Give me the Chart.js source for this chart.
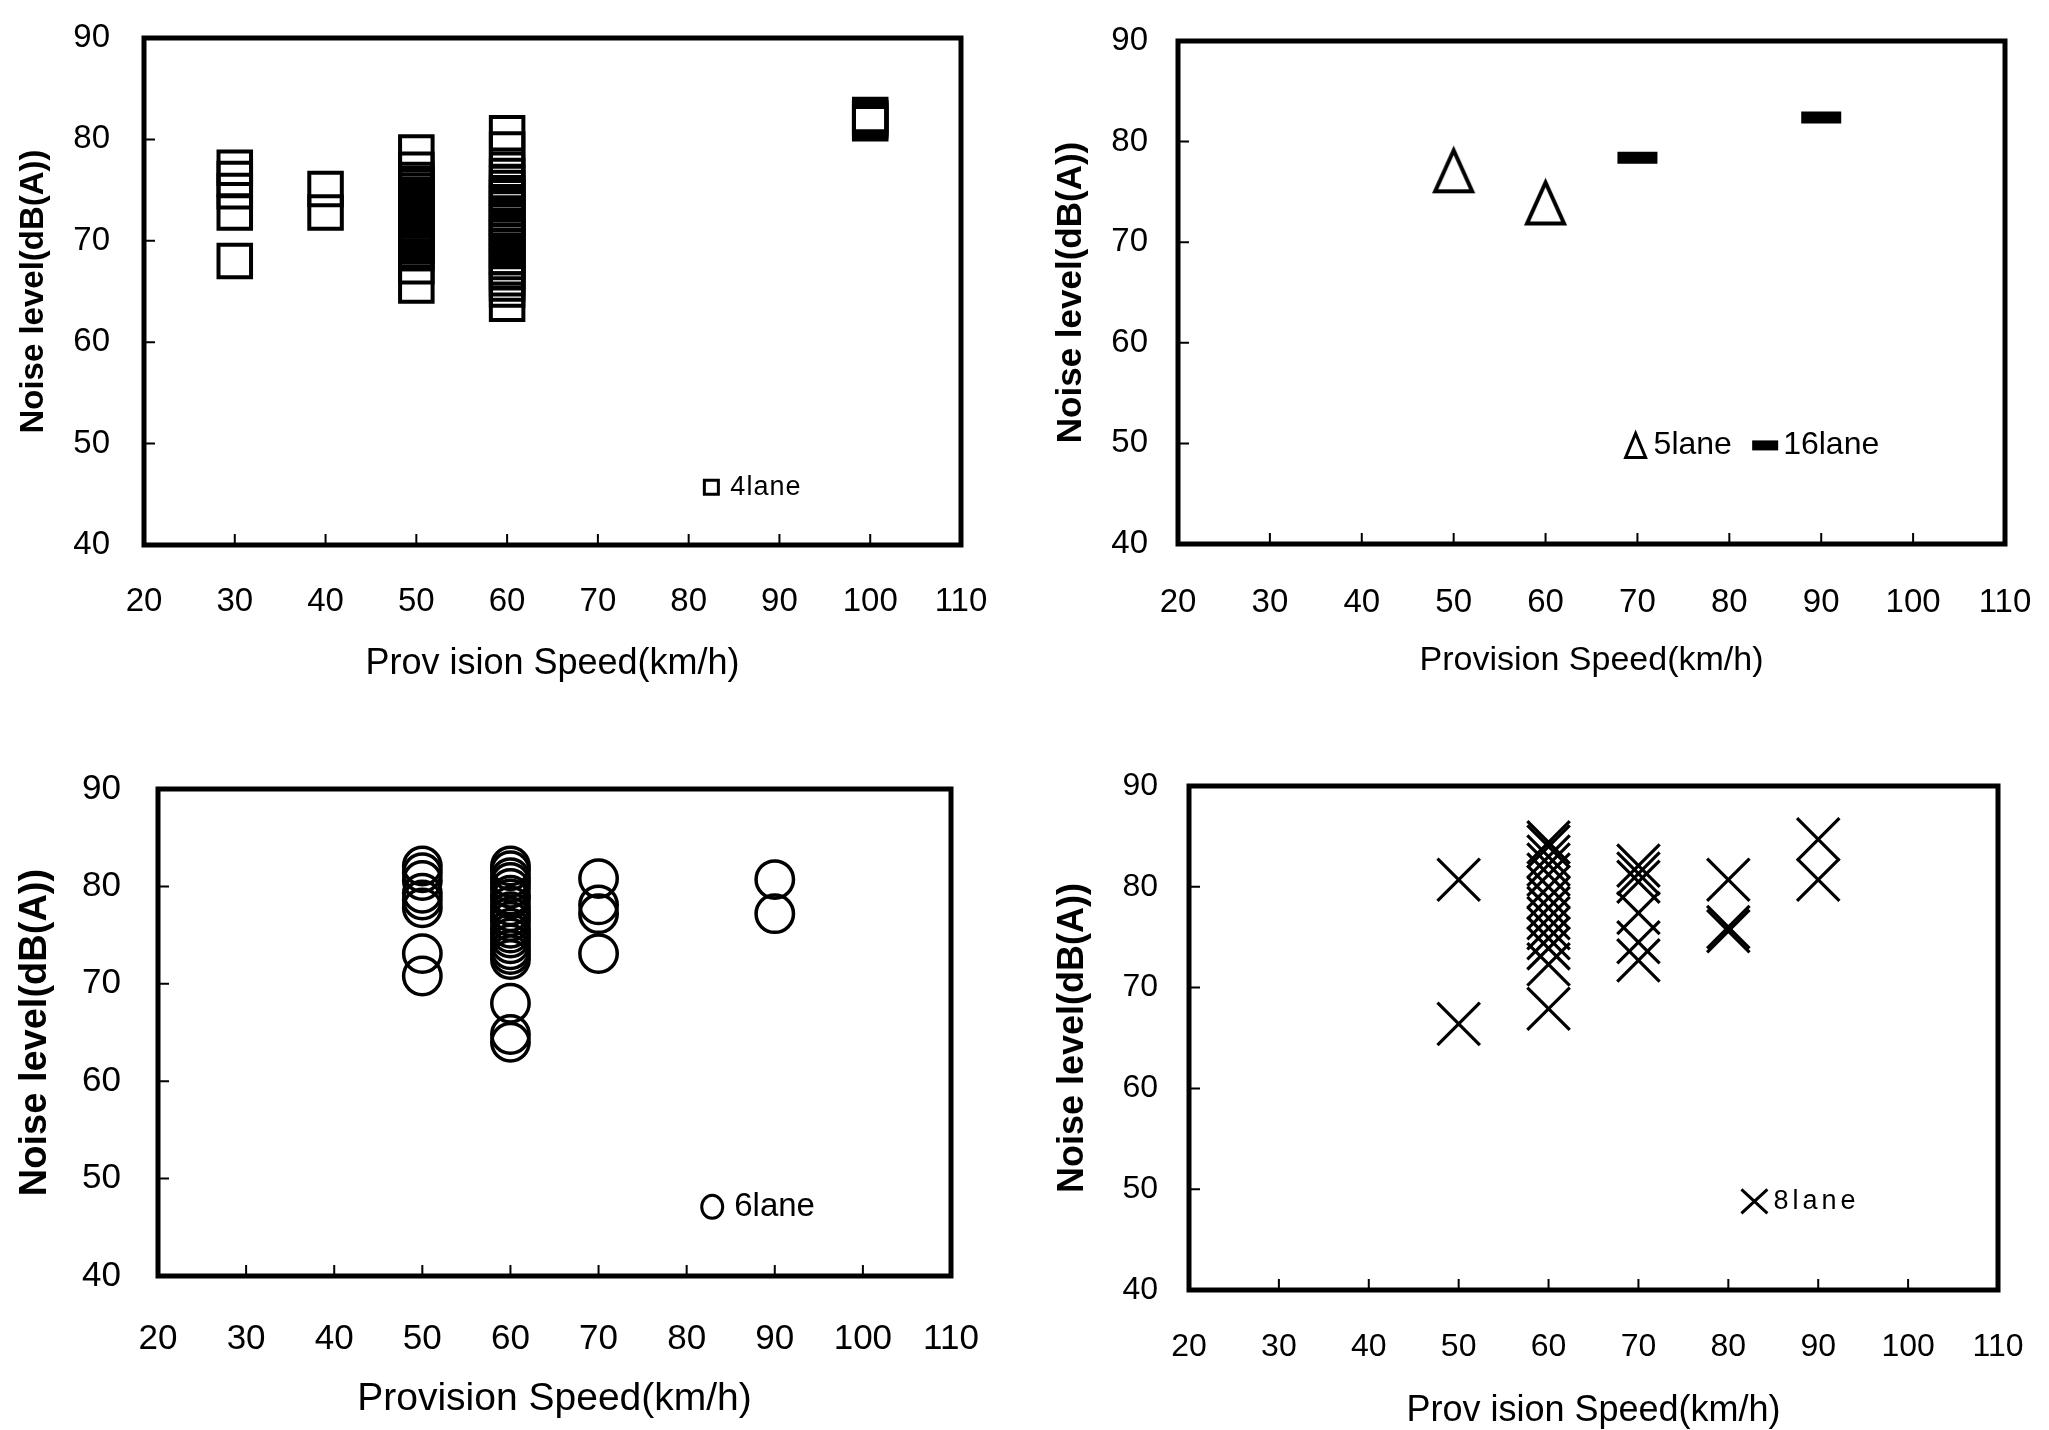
<!DOCTYPE html>
<html>
<head>
<meta charset="utf-8">
<script src="https://cdn.jsdelivr.net/npm/chart.js@4.4.1/dist/chart.umd.min.js"></script>
<style>
html,body{margin:0;padding:0;background:#fff;overflow:hidden;width:2049px;height:1430px;position:relative;}
canvas{position:absolute;}
</style>
</head>
<body>
<canvas id="c1"></canvas>
<canvas id="c2"></canvas>
<canvas id="c3"></canvas>
<canvas id="c4"></canvas>
<script>
// ---------- data ----------
const xTickValues = [20, 30, 40, 50, 60, 70, 80, 90, 100, 110];
const yTickValues = [40, 50, 60, 70, 80, 90];

const lane4Speed = [30, 40, 50, 60, 100];
const lane4Noise = [
  [77.2, 76.1, 74.9, 72.8, 68.0],
  [75.1, 72.8],
  [78.7, 77.0, 76.0, 75.6, 75.3, 74.9, 74.5, 74.2, 73.8, 73.5, 73.1, 72.7, 72.4, 72.0, 71.6, 71.3, 70.9, 70.5, 70.2, 69.8, 69.5, 69.1, 68.8, 67.5, 65.6],
  [80.6, 79.0, 77.0, 76.4, 75.7, 75.2, 74.7, 74.3, 73.6, 73.2, 72.7, 72.2, 71.9, 71.3, 70.8, 70.5, 69.9, 69.4, 69.0, 68.4, 67.9, 67.4, 66.9, 66.3, 65.8, 65.2, 63.8],
  [82.4, 82.1, 81.9, 81.6]
];

const lane5Speed = [50, 60];
const lane5Noise = [77.1, 73.9];
const lane16Speed = [70, 90];
const lane16Noise = [78.4, 82.4];

const lane6Speed = [50, 60, 70, 90];
const lane6Noise = [
  [82.1, 81.4, 80.6, 79.3, 78.6, 77.8, 73.1, 70.8],
  [82.1, 81.6, 80.9, 80.4, 79.8, 79.1, 78.7, 78.0, 77.4, 76.9, 76.4, 75.7, 75.2, 74.7, 74.1, 73.5, 73.0, 72.5, 68.0, 64.8, 64.0],
  [80.8, 78.1, 77.2, 73.1],
  [80.7, 77.2]
];

const lane8Speed = [50, 60, 70, 80, 90];
const lane8Noise = [
  [80.7, 66.4],
  [84.4, 84.0, 83.0, 82.2, 81.2, 80.0, 78.9, 77.9, 76.9, 75.9, 74.9, 73.9, 72.3, 67.9],
  [82.1, 81.3, 80.5, 77.4, 74.5, 72.7],
  [80.7, 76.0, 75.6],
  [84.7, 80.7]
];

// ---------- helpers ----------
function pts(speeds, noise) {
  return speeds.flatMap((s, i) => (Array.isArray(noise[i]) ? noise[i] : [noise[i]]).map(n => ({x: s, y: n})));
}

const FAMILY = "'Liberation Sans', Arial, Helvetica, sans-serif";
Chart.defaults.color = '#000';
Chart.defaults.font.family = FAMILY;

function triangleImage(w, h, lw) {
  const pad = 8;
  const c = document.createElement('canvas');
  c.width = w + 2 * pad; c.height = h + 2 * pad;
  const g = c.getContext('2d');
  g.strokeStyle = '#000'; g.lineWidth = lw; g.lineJoin = 'miter';
  g.beginPath();
  g.moveTo(pad + w / 2, pad);
  g.lineTo(pad + w, pad + h);
  g.lineTo(pad, pad + h);
  g.closePath();
  g.stroke();
  return c;
}

function drawMarker(ctx, m, x, y) {
  ctx.save();
  ctx.strokeStyle = '#000'; ctx.fillStyle = '#000';
  ctx.lineWidth = m.lw || 3;
  ctx.beginPath();
  if (m.type === 'rect') { ctx.rect(x - m.w / 2, y - m.h / 2, m.w, m.h); ctx.stroke(); }
  else if (m.type === 'triangle') { ctx.moveTo(x, y - m.h / 2); ctx.lineTo(x + m.w / 2, y + m.h / 2); ctx.lineTo(x - m.w / 2, y + m.h / 2); ctx.closePath(); ctx.stroke(); }
  else if (m.type === 'bar') { ctx.fillRect(x - m.w / 2, y - m.h / 2, m.w, m.h); }
  else if (m.type === 'circle') { ctx.ellipse(x, y, m.w / 2, m.h / 2, 0, 0, Math.PI * 2); ctx.stroke(); }
  else if (m.type === 'cross') { ctx.moveTo(x - m.w / 2, y - m.h / 2); ctx.lineTo(x + m.w / 2, y + m.h / 2); ctx.moveTo(x + m.w / 2, y - m.h / 2); ctx.lineTo(x - m.w / 2, y + m.h / 2); ctx.stroke(); }
  ctx.restore();
}

const framePlugin = {
  id: 'frame',
  afterDatasetsDraw(chart, args, opts) {
    const {ctx, chartArea: a, scales} = chart;
    ctx.save();
    ctx.strokeStyle = '#000';
    ctx.lineWidth = opts.lineWidth || 4;
    ctx.strokeRect(a.left, a.top, a.right - a.left, a.bottom - a.top);
    ctx.lineWidth = 2;
    ctx.beginPath();
    const tl = opts.tickLen || 11;
    xTickValues.forEach(v => {
      if (v > scales.x.min && v < scales.x.max) {
        const px = scales.x.getPixelForValue(v);
        ctx.moveTo(px, a.bottom);
        ctx.lineTo(px, a.bottom - tl);
      }
    });
    yTickValues.forEach(v => {
      if (v > scales.y.min && v < scales.y.max) {
        const py = scales.y.getPixelForValue(v);
        ctx.moveTo(a.left, py);
        ctx.lineTo(a.left + tl, py);
      }
    });
    ctx.stroke();
    (opts.legend || []).forEach(item => {
      const px = scales.x.getPixelForValue(item.x);
      const py = scales.y.getPixelForValue(item.y);
      drawMarker(ctx, item.marker, px, py);
      ctx.fillStyle = '#000';
      ctx.font = (opts.legendSize || 28) + 'px ' + FAMILY;
      ctx.textBaseline = 'middle';
      ctx.textAlign = 'left';
      if ('letterSpacing' in ctx) ctx.letterSpacing = (opts.legendSpacing || 0) + 'px';
      ctx.fillText(item.label, px + item.dx, py);
    });
    ctx.restore();
  }
};

function panel(cfg) {
  const cv = document.getElementById(cfg.id);
  cv.width = cfg.cw; cv.height = cfg.ch;
  cv.style.left = cfg.cx + 'px'; cv.style.top = cfg.cy + 'px';
  cv.style.width = cfg.cw + 'px'; cv.style.height = cfg.ch + 'px';
  const A = cfg.area;
  return new Chart(cv, {
    type: 'scatter',
    data: {datasets: cfg.datasets},
    options: {
      responsive: false,
      animation: false,
      devicePixelRatio: 1,
      layout: {autoPadding: false, padding: {left: 0, top: A[1] - cfg.cy, right: cfg.cx + cfg.cw - A[2], bottom: 0}},
      plugins: {
        legend: {display: false},
        tooltip: {enabled: false},
        frame: cfg.frame
      },
      scales: {
        x: {
          type: 'linear', position: 'bottom', min: 20, max: 110,
          afterFit: s => { s.height = cfg.cy + cfg.ch - A[3]; },
          afterBuildTicks: s => { s.ticks = xTickValues.map(v => ({value: v})); },
          grid: {display: false, drawTicks: false, tickLength: 0},
          border: {display: false},
          ticks: {font: {size: cfg.tickSize}, padding: cfg.xPad, maxRotation: 0, autoSkip: false, color: '#000'},
          title: {display: true, text: cfg.xTitle, color: '#000', font: {size: cfg.xTitleSize}, padding: {top: 0, bottom: cfg.xTitlePad}}
        },
        y: {
          type: 'linear', position: 'left', min: 40, max: 90,
          afterFit: s => { s.width = A[0] - cfg.cx; },
          afterBuildTicks: s => { s.ticks = yTickValues.map(v => ({value: v})); },
          grid: {display: false, drawTicks: false, tickLength: 0},
          border: {display: false},
          ticks: {font: {size: cfg.tickSize}, padding: cfg.yPad, autoSkip: false, color: '#000'},
          title: {display: true, text: 'Noise level(dB(A))', color: '#000', font: {size: cfg.yTitleSize, weight: 'bold'}, padding: {top: cfg.yTitlePad, bottom: 0}}
        }
      }
    },
    plugins: [framePlugin]
  });
}

const clear = 'rgba(0,0,0,0)';

// Top-left: 4 lane
panel({
  id: 'c1', cx: 0, cy: -40, cw: 1040, ch: 740, area: [144, 38, 961, 545],
  tickSize: 33, xPad: 37, yPad: 34,
  xTitle: 'Prov ision Speed(km/h)', xTitleSize: 36, xTitlePad: 14,
  yTitleSize: 33, yTitlePad: 14,
  datasets: [{
    label: '4lane', data: pts(lane4Speed, lane4Noise),
    pointStyle: 'rect', pointRadius: 23, borderWidth: 4, borderColor: '#000', backgroundColor: clear
  }],
  frame: {lineWidth: 5, tickLen: 11, legendSize: 27, legendSpacing: 1,
    legend: [{x: 82.5, y: 45.7, marker: {type: 'rect', w: 14, h: 14, lw: 3}, label: '4lane', dx: 19}]}
});

// Top-right: 5 lane & 16 lane
panel({
  id: 'c2', cx: 1030, cy: -40, cw: 1100, ch: 740, area: [1178, 41, 2005, 544],
  tickSize: 33, xPad: 39, yPad: 30,
  xTitle: 'Provision Speed(km/h)', xTitleSize: 34, xTitlePad: 19,
  yTitleSize: 35, yTitlePad: 20,
  datasets: [{
    label: '5lane', data: pts(lane5Speed, lane5Noise),
    pointStyle: triangleImage(37, 41, 4), pointRadius: 20, borderColor: '#000', backgroundColor: clear
  }, {
    label: '16lane', data: pts(lane16Speed, lane16Noise),
    pointStyle: 'line', pointRadius: 20, borderWidth: 12, borderColor: '#000', backgroundColor: '#000'
  }],
  frame: {lineWidth: 5, tickLen: 11, legendSize: 32,
    legend: [
      {x: 69.8, y: 49.8, marker: {type: 'triangle', w: 20, h: 24, lw: 3}, label: '5lane', dx: 18},
      {x: 83.9, y: 49.8, marker: {type: 'bar', w: 26, h: 10}, label: '16lane', dx: 18}
    ]}
});

// Bottom-left: 6 lane
panel({
  id: 'c3', cx: 0, cy: 720, cw: 1040, ch: 740, area: [158, 789, 951, 1276],
  tickSize: 35, xPad: 42, yPad: 37,
  xTitle: 'Provision Speed(km/h)', xTitleSize: 39, xTitlePad: 37,
  yTitleSize: 38, yTitlePad: 13,
  datasets: [{
    label: '6lane', data: pts(lane6Speed, lane6Noise),
    pointStyle: 'circle', pointRadius: 18.7, borderWidth: 3.5, borderColor: '#000', backgroundColor: clear
  }],
  frame: {lineWidth: 5, tickLen: 11, legendSize: 33,
    legend: [{x: 82.9, y: 47.1, marker: {type: 'circle', w: 21, h: 23, lw: 3}, label: '6lane', dx: 22}]}
});

// Bottom-right: 8 lane
panel({
  id: 'c4', cx: 1030, cy: 720, cw: 1100, ch: 740, area: [1189, 786, 1998, 1290],
  tickSize: 32, xPad: 38, yPad: 31,
  xTitle: 'Prov ision Speed(km/h)', xTitleSize: 36, xTitlePad: 27,
  yTitleSize: 36, yTitlePad: 21,
  datasets: [{
    label: '8lane', data: pts(lane8Speed, lane8Noise),
    pointStyle: 'crossRot', pointRadius: 30, borderWidth: 3.2, borderColor: '#000', backgroundColor: clear
  }],
  frame: {lineWidth: 5, tickLen: 11, legendSize: 27, legendSpacing: 4,
    legend: [{x: 82.9, y: 48.8, marker: {type: 'cross', w: 26, h: 24, lw: 3}, label: '8lane', dx: 19}]}
});
</script>
</body>
</html>
